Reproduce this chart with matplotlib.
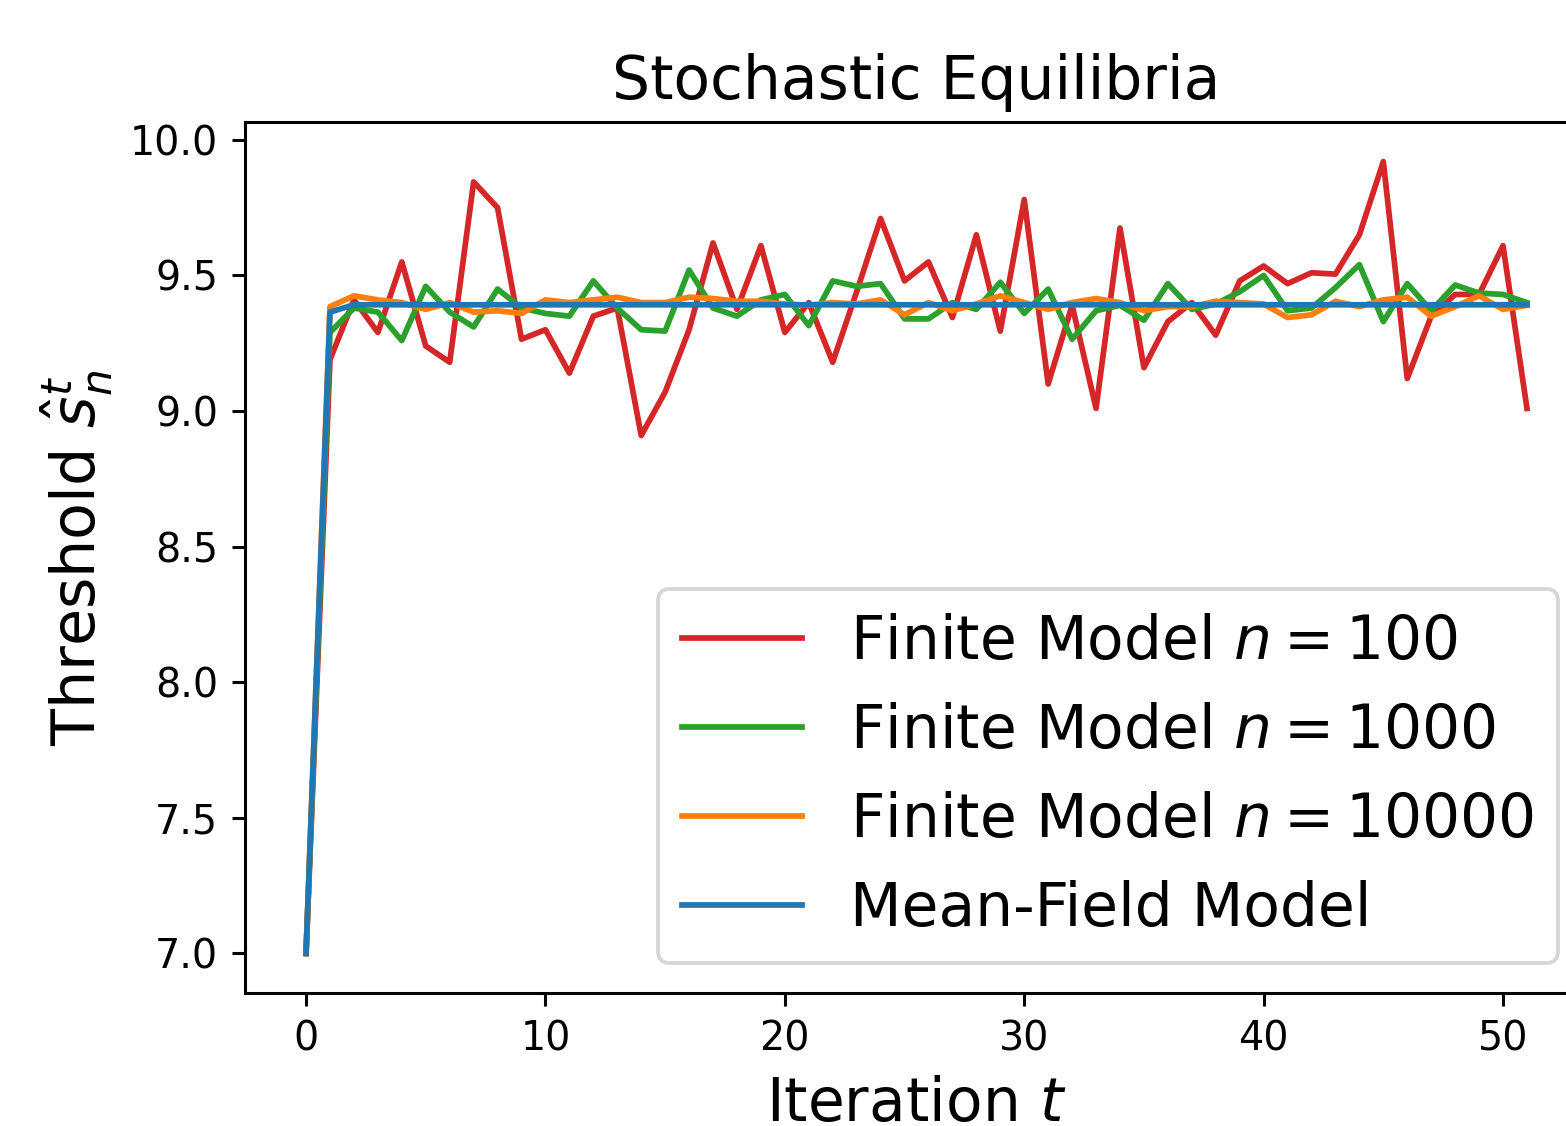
import numpy as np
import matplotlib
matplotlib.use("Agg")
import matplotlib.pyplot as plt

# iterations 0..51
t = np.arange(52)

s_n100 = [7.0, 9.19, 9.41, 9.29, 9.55, 9.24, 9.18, 9.845, 9.75, 9.265,
          9.30, 9.14, 9.35, 9.38, 8.91, 9.07, 9.30, 9.62, 9.375, 9.61,
          9.29, 9.40, 9.18, 9.44, 9.71, 9.48, 9.55, 9.345, 9.65, 9.295,
          9.78, 9.10, 9.39, 9.01, 9.675, 9.16, 9.33, 9.40, 9.28, 9.48,
          9.535, 9.47, 9.51, 9.505, 9.65, 9.92, 9.12, 9.35, 9.43, 9.43,
          9.61, 9.01]

s_n1000 = [7.0, 9.29, 9.38, 9.365, 9.26, 9.46, 9.365, 9.31, 9.45, 9.38,
           9.36, 9.35, 9.48, 9.38, 9.30, 9.295, 9.52, 9.38, 9.35, 9.41,
           9.43, 9.315, 9.48, 9.46, 9.47, 9.34, 9.34, 9.40, 9.375, 9.475,
           9.36, 9.45, 9.265, 9.37, 9.39, 9.335, 9.47, 9.375, 9.395, 9.44,
           9.50, 9.37, 9.38, 9.455, 9.54, 9.33, 9.47, 9.37, 9.465, 9.435,
           9.43, 9.40]

s_n10000 = [7.0, 9.385, 9.425, 9.41, 9.40, 9.375, 9.40, 9.365, 9.37, 9.36,
            9.41, 9.40, 9.41, 9.42, 9.40, 9.40, 9.42, 9.415, 9.405, 9.405,
            9.395, 9.39, 9.40, 9.395, 9.41, 9.355, 9.40, 9.37, 9.395, 9.425,
            9.40, 9.375, 9.40, 9.415, 9.40, 9.37, 9.385, 9.385, 9.405, 9.40,
            9.395, 9.345, 9.355, 9.405, 9.385, 9.41, 9.42, 9.35, 9.385, 9.425,
            9.375, 9.39]

s_mf = [7.0, 9.365] + [9.392] * 50

fig = plt.figure(figsize=(1566 / 275, 1126 / 275), dpi=275)
ax = fig.add_axes([245 / 1566, 133 / 1126, 1343 / 1566, 871 / 1126])

ax.plot(t, s_n100, color="tab:red", label="Finite Model $n=100$")
ax.plot(t, s_n1000, color="tab:green", label="Finite Model $n=1000$")
ax.plot(t, s_n10000, color="tab:orange", label="Finite Model $n=10000$")
ax.plot(t, s_mf, color="tab:blue", label="Mean-Field Model")

ax.tick_params(labelsize=10.4)
ax.set_title("Stochastic Equilibria", fontsize=15.7)
ax.set_xlabel("Iteration $t$", fontsize=15.7)
ax.set_ylabel(r"Threshold $\hat{s}_n^t$", fontsize=15.8)
ax.legend(loc="lower right", fontsize=15.7)

fig.savefig("out.png", dpi=275)
